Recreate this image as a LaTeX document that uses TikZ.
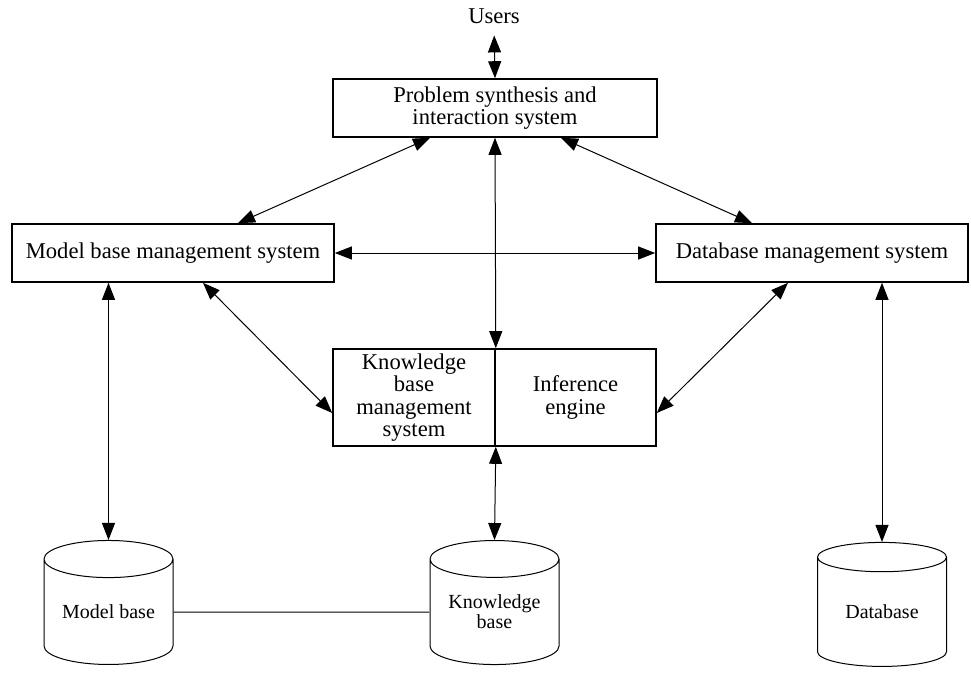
\documentclass[tikz,border=0pt]{standalone}
\usepackage{fontspec}
\setmainfont{Liberation Serif}
\usetikzlibrary{arrows.meta,shapes.geometric,calc}
\begin{document}
\begin{tikzpicture}[x={(0.5pt,0pt)}, y={(0pt,-0.5pt)}]
%styles des noeuds
\tikzstyle{sysBox}=[rectangle, draw, line width=0.8pt, align=center, inner sep=0pt, minimum height=29pt, font=\fontsize{11.3}{11.3}\selectfont]
\tikzstyle{dbCyl}=[cylinder, shape border rotate=90, aspect=0.4, draw, line width=0.5pt, minimum width=64.5pt, minimum height=62pt, inner sep=0pt, align=center, font=\fontsize{10}{10}\selectfont]
\tikzstyle{biArrow}=[{Triangle[length=8.5pt,width=6.5pt]}-{Triangle[length=8.5pt,width=6.5pt]}, line width=0.5pt]
\useasboundingbox (0,0) rectangle (971,675);
%figure
\node[inner sep=0pt, font=\fontsize{11.3}{11.3}\selectfont] (users) at (494,16.5) {Users};
\node[sysBox, minimum width=162pt] (problem) at (495,108) {Problem synthesis and\\interaction system};
\node[sysBox, minimum width=161pt] (model) at (173,253) {Model base management system};
\node[sysBox, minimum width=156pt] (dbms) at (812,253) {Database management system};
% knowledge box
\node[sysBox, minimum width=81pt, minimum height=48.5pt] (kbms) at (414,397.5) {Knowledge\\base\\management\\system};
\node[sysBox, minimum width=80.5pt, minimum height=48.5pt] (infer) at (575.5,397.5) {Inference\\engine};
% bases
\node[dbCyl] (mbase) at (108.5,612) {Model base};
\node[dbCyl] (kbase) at (494.5,612) {Knowledge\\base};
\node[dbCyl] (dbase) at (882,612) {Database};
%fleches
\draw[biArrow, shorten <=5.5pt] (users.south) -- (problem.north);
\draw[biArrow] ($(problem.south)+(-65,0)$) -- ($(model.north)+(65,0)$);
\draw[biArrow] ($(problem.south)+(66,0)$) -- ($(dbms.north)+(-60,0)$);
\draw[biArrow] (problem.south) -- (kbms.north east);
\draw[biArrow] (model) -- (dbms);
\draw[biArrow] ($(model.south)+(30,0)$) -- ($(kbms.west)+(0,15.5)$);
\draw[biArrow] ($(dbms.south)+(-24,0)$) -- ($(infer.east)+(0,15.5)$);
\draw[biArrow] (mbase.north |- model.south) -- (mbase.north);
\draw[biArrow] (kbms.south east) -- (kbase.north);
\draw[biArrow] (dbase.north |- dbms.south) -- (dbase.north);
% lien
\draw[line width=0.5pt] (mbase) -- (kbase);
\end{tikzpicture}
\end{document}
